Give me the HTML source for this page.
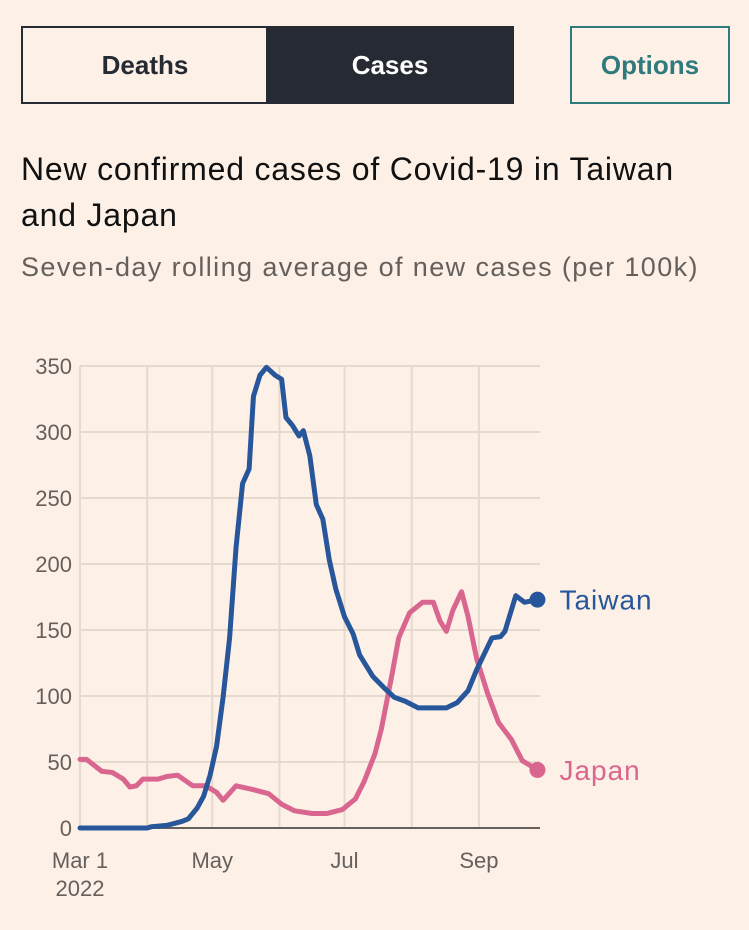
<!DOCTYPE html>
<html><head><meta charset="utf-8">
<style>
html,body{margin:0;padding:0;background:#fdf1e7;width:749px;height:930px;overflow:hidden;font-family:"Liberation Sans",sans-serif}
.btn{position:absolute;box-sizing:border-box;display:flex;align-items:center;justify-content:center;font-weight:bold;font-size:26px}
#title{position:absolute;left:21px;top:146px;font-size:32px;line-height:46px;color:#111;white-space:nowrap;letter-spacing:0.8px}
#sub{position:absolute;left:21px;top:252px;font-size:27px;color:#66605c;white-space:nowrap;letter-spacing:1.4px}
</style></head><body>
<div class="btn" style="left:21px;top:26px;width:246px;height:78px;border:2px solid #262a33;border-right:none;color:#262a33">Deaths</div>
<div class="btn" style="left:266px;top:26px;width:248px;height:78px;background:#262a33;color:#fff">Cases</div>
<div class="btn" style="left:570px;top:26px;width:160px;height:78px;border:2px solid #2f7a7d;color:#2f7a7d">Options</div>
<div id="title">New confirmed cases of Covid-19 in Taiwan<br>and Japan</div>
<div id="sub">Seven-day rolling average of new cases (per 100k)</div>
<svg id="chart" width="749" height="930" style="position:absolute;left:0;top:0" font-family="Liberation Sans, sans-serif"></svg>
<script>
const yTicks=[0,50,100,150,200,250,300,350];
const monthDays=[0,31,61,92,122,153,184];
const xLabels=[["Mar 1","2022"],["May"],["Jul"],["Sep"]];
const xLabelDays=[0,61,122,184];
const taiwanDays=[0,31,33,40,47,50,54,57,60,63,66,69,72,75,78,80,83,86,90,93,95,98,101,103,106,109,112,115,118,122,126,129,135,141,145,150,156,169,174,179,183,190,194,196,201,205,211];
const taiwanVals=[0,0,1,2,5,7,15,24,40,62,99,144,213,261,272,327,343,349,343,340,311,305,297,301,282,245,234,203,181,160,147,131,115,105,99,96,91,91,95,104,120,144,145,149,176,171,173];
const japanDays=[0,3,10,15,20,23,26,29,36,40,45,52,58,63,66,72,80,87,93,99,107,114,121,127,131,136,139,144,147,152,158,163,166,169,172,176,179,183,188,193,199,204,211];
const japanVals=[52,52,43,42,37,31,32,37,37,39,40,32,32,27,21,32,29,26,18,13,11,11,14,22,35,56,75,117,144,163,171,171,157,149,165,179,160,128,102,80,67,51,44];
const svg=document.getElementById('chart');
const NS='http://www.w3.org/2000/svg';
const x0=80,pxDay=2.168,y0=828,pxVal=462/350;
const X=d=>x0+d*pxDay, Y=v=>y0-v*pxVal;
function mk(t,a){const e=document.createElementNS(NS,t);for(const k in a)e.setAttribute(k,a[k]);svg.appendChild(e);return e;}
yTicks.forEach(v=>{
  const g=mk('line',{x1:80,x2:540,y1:Y(v),y2:Y(v),stroke:'#e6d9ce','stroke-width':2});
  
  
  const t=mk('text',{x:72,y:Y(v)+8,'text-anchor':'end','font-size':22,fill:'#66605c'});
  t.textContent=v;
  
  
});
monthDays.forEach(d=>{
  const g=mk('line',{x1:X(d),x2:X(d),y1:Y(350),y2:y0,stroke:'#e6d9ce','stroke-width':2});
  
  
});
xLabelDays.forEach((d,i)=>{
  xLabels[i].forEach((s,j)=>{
    const t=mk('text',{x:X(d),y:868+j*28,'text-anchor':'middle','font-size':22,fill:'#66605c'});
    t.textContent=s;
    
    
  });
});
const ax=mk('line',{x1:80,x2:540,y1:y0,y2:y0,stroke:'#66605c','stroke-width':2});


function series(days,vals,color,name,label){
  const p=mk('polyline',{points:days.map((d,i)=>X(d)+','+Y(vals[i])).join(' '),fill:'none',stroke:color,'stroke-width':5,'stroke-linejoin':'round','stroke-linecap':'round'});
  
  
  const n=days.length-1;
  const c=mk('circle',{cx:X(days[n]),cy:Y(vals[n]),r:8,fill:color});
  
  
  const t=mk('text',{x:X(days[n])+22,y:Y(vals[n])+10,'font-size':28,fill:color,'letter-spacing':1});
  t.textContent=label;
  
  
}
series(japanDays,japanVals,'#d9668f','japan','Japan');
series(taiwanDays,taiwanVals,'#27569b','taiwan','Taiwan');
</script>
</body></html>
